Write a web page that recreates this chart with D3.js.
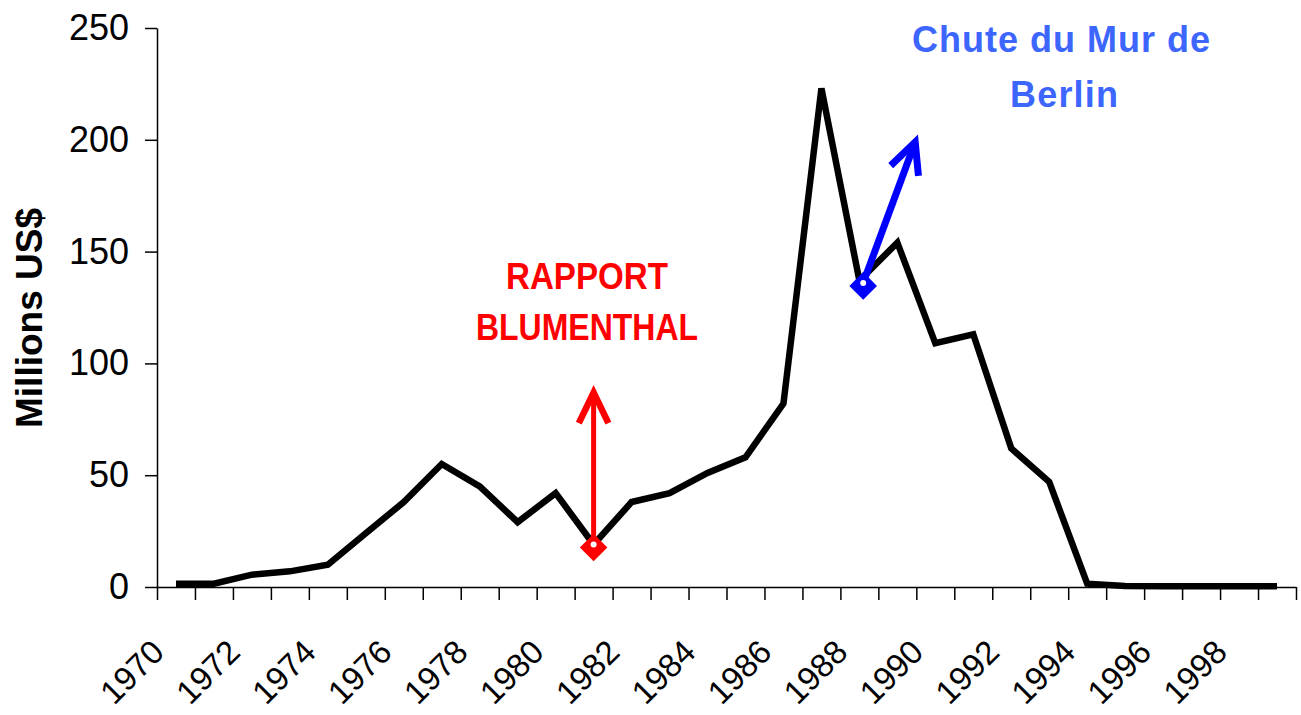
<!DOCTYPE html>
<html lang="fr">
<head>
  <meta charset="UTF-8">
  <title>Millions US$ 1970-1999</title>
  <style>
    body {
      margin: 0;
      padding: 0;
      background: #fff;
      font-family: "Liberation Sans", Arial, sans-serif;
    }
    .axis path, .axis line {
      stroke: #000;
      stroke-width: 1.5px;
    }
    .axis text {
      fill: #000;
      font-family: "Liberation Sans", Arial, sans-serif;
    }
    .line {
      fill: none;
      stroke: #000;
      stroke-width: 6.5px;
      stroke-linejoin: miter;
    }
  </style>
</head>
<body>
  <div id="chart"></div>

  <script src="https://d3js.org/d3.v7.min.js"></script>
  <script>
    const years = d3.range(1970, 2000);
    const values = [1.5, 1.5, 5.5, 7, 10, 24, 38, 55, 45, 29,
                    42, 19, 38, 42, 51, 58, 82, 223, 137, 154,
                    109, 113, 62, 47, 1.5, 0.5, 0.3, 0.3, 0.3, 0.3];
    const yTicks = [0, 50, 100, 150, 200, 250];
    const xLabels = d3.range(1970, 2000, 2);

    // annotations: [year, value] start and end of each arrow
    const redArrow = [[1981, 19], [1981, 87]];
    const blueArrow = [[1988.1, 136], [1989.47, 199]];
    const redText = ["RAPPORT", "BLUMENTHAL"];
    const blueText = ["Chute du Mur de", "Berlin"];

    const W = 1301, H = 715;

    const svg = d3.select("#chart")
      .append("svg")
        .attr("width", W)
        .attr("height", H);

    // Scales
    const x = d3.scaleLinear()
      .domain([1969.5, 1999.5])
      .range([157, 1296]);

    const y = d3.scaleLinear()
      .domain([0, 250])
      .range([587, 28]);

    // Y axis
    svg.append("g")
      .attr("class", "axis")
      .attr("transform", `translate(${x(1969.5)},0)`)
      .call(d3.axisLeft(y).tickValues(yTicks).tickSize(12).tickSizeOuter(0).tickPadding(16))
      .selectAll("text")
        .style("font-size", "36px");

    // X axis: ticks at category boundaries, labels for even years
    svg.append("g")
      .attr("class", "axis")
      .attr("transform", `translate(0,${y(0)})`)
      .call(d3.axisBottom(x)
        .tickValues(d3.range(1969.5, 2000, 1))
        .tickSize(13)
        .tickSizeOuter(0)
        .tickFormat(""));

    svg.append("g")
      .selectAll("text")
      .data(xLabels)
      .join("text")
        .attr("text-anchor", "end")
        .attr("transform", d => `translate(${x(d) - 10},654) rotate(-45)`)
        .style("font-size", "33px")
        .text(d => d);

    // Y axis title
    svg.append("text")
      .attr("text-anchor", "middle")
      .attr("transform", "translate(42,318) rotate(-90)")
      .style("font-size", "37px")
      .style("font-weight", "bold")
      .text("Millions US$");

    // Data line
    const data = years.map((yr, i) => ({ year: yr, value: values[i] }));
    const line = d3.line()
      .x(d => x(d.year))
      .y(d => y(d.value));

    svg.append("path")
      .datum(data)
      .attr("class", "line")
      .attr("d", line);

    // Arrows
    function drawArrow(pts, color, width, headWidth) {
      const [x0, y0] = [x(pts[0][0]), y(pts[0][1])];
      const [x1, y1] = [x(pts[1][0]), y(pts[1][1])];
      const ang = Math.atan2(y1 - y0, x1 - x0);
      const len = 34, spread = 0.45;
      const g = svg.append("g")
        .attr("stroke", color)
        .attr("fill", "none")
        .attr("stroke-width", width);
      g.append("line")
        .attr("x1", x0).attr("y1", y0)
        .attr("x2", x1).attr("y2", y1);
      g.append("path")
        .attr("stroke-width", headWidth)
        .attr("stroke-linejoin", "miter")
        .attr("d", `M${x1 - len * Math.cos(ang - spread)},${y1 - len * Math.sin(ang - spread)}` +
                   `L${x1},${y1}` +
                   `L${x1 - len * Math.cos(ang + spread)},${y1 - len * Math.sin(ang + spread)}`);
      svg.append("path")
        .attr("d", d3.symbol(d3.symbolSquare, 380)())
        .attr("transform", `translate(${x0},${y0 + 3}) rotate(45)`)
        .attr("fill", color);
      svg.append("circle")
        .attr("cx", x0).attr("cy", y0)
        .attr("r", 3)
        .attr("fill", "#fff");
    }

    drawArrow(redArrow, "#ff0000", 5, 6.5);
    drawArrow(blueArrow, "#0000ff", 7, 7);

    // Annotation texts
    svg.append("g")
      .selectAll("text")
      .data(redText)
      .join("text")
        .attr("x", 587)
        .attr("y", (d, i) => 289 + i * 51)
        .attr("text-anchor", "middle")
        .attr("textLength", (d, i) => i === 0 ? 162 : 222)
        .attr("lengthAdjust", "spacingAndGlyphs")
        .style("font-size", "37px")
        .style("font-weight", "bold")
        .attr("fill", "#ff0000")
        .text(d => d);

    svg.append("g")
      .selectAll("text")
      .data(blueText)
      .join("text")
        .attr("x", (d, i) => i === 0 ? 1061 : 1064)
        .attr("y", (d, i) => 52 + i * 55)
        .attr("text-anchor", "middle")
        .attr("textLength", (d, i) => i === 0 ? 298 : 108)
        .attr("lengthAdjust", "spacing")
        .style("font-size", "36px")
        .style("font-weight", "bold")
        .attr("fill", "#3d66ff")
        .text(d => d);
  </script>
</body>
</html>
